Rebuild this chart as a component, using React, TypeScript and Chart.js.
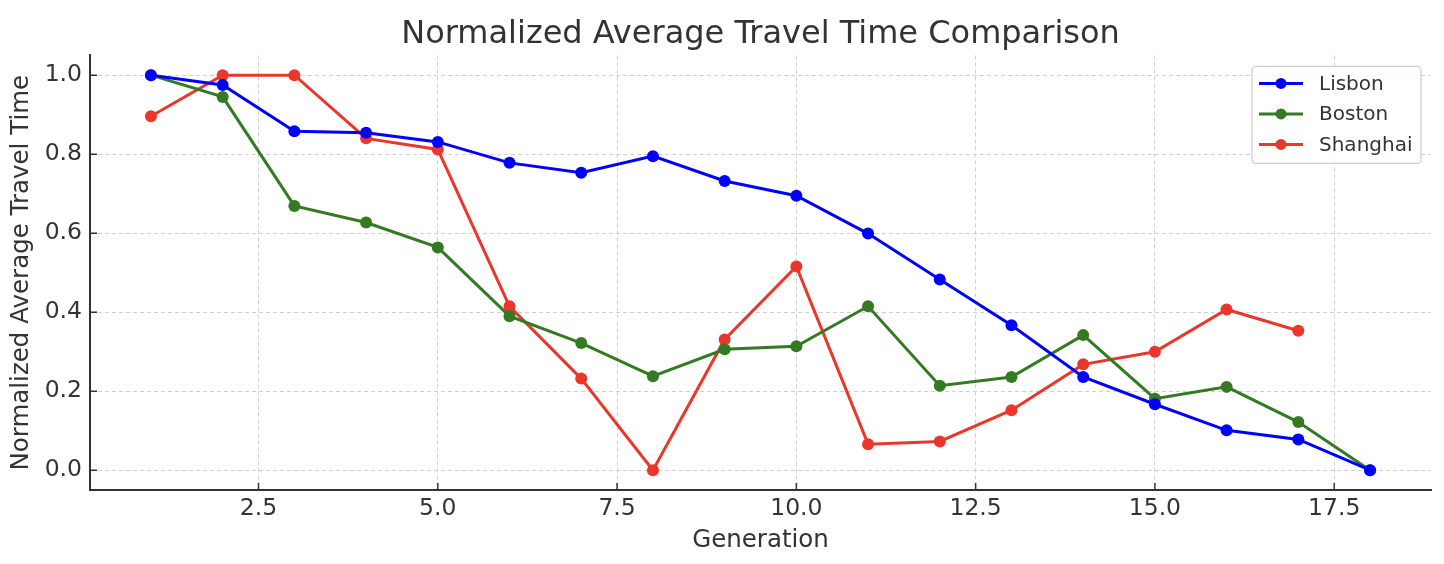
import { useEffect, useRef } from "react";
import { Chart, registerables } from "chart.js";
Chart.register(...registerables);

const generations = [1, 2, 3, 4, 5, 6, 7, 8, 9, 10, 11, 12, 13, 14, 15, 16, 17, 18];
const lisbon = [1.0, 0.975, 0.858, 0.854, 0.831, 0.778, 0.753, 0.795, 0.732, 0.695, 0.599, 0.483, 0.367, 0.236, 0.167, 0.101, 0.078, 0.0];
const boston = [1.0, 0.945, 0.669, 0.627, 0.564, 0.39, 0.322, 0.238, 0.306, 0.314, 0.415, 0.214, 0.236, 0.342, 0.181, 0.211, 0.122, 0.0];
const shanghai = [0.896, 1.0, 1.0, 0.84, 0.812, 0.415, 0.232, 0.0, 0.331, 0.516, 0.066, 0.073, 0.152, 0.268, 0.3, 0.407, 0.353];
const seriesNames = ["Lisbon", "Boston", "Shanghai"];
const seriesColors = ["#0000ff", "#337a22", "#e9382b"];
const xTicks = [2.5, 5.0, 7.5, 10.0, 12.5, 15.0, 17.5];
const yTicks = [0.0, 0.2, 0.4, 0.6, 0.8, 1.0];

const FONT = "'DejaVu Sans', sans-serif";
const TEXT = "#333333";

const inwardTicks = {
  id: "inwardTicks",
  afterDraw(chart: any) {
    const { ctx, chartArea } = chart;
    const xs = chart.scales.x;
    const ys = chart.scales.y;
    ctx.save();
    ctx.strokeStyle = TEXT;
    ctx.lineWidth = 1.5;
    ctx.beginPath();
    xTicks.forEach((v) => {
      const px = xs.getPixelForValue(v);
      ctx.moveTo(px, chartArea.bottom);
      ctx.lineTo(px, chartArea.bottom - 7);
    });
    yTicks.forEach((v) => {
      const py = ys.getPixelForValue(v);
      ctx.moveTo(chartArea.left, py);
      ctx.lineTo(chartArea.left + 7, py);
    });
    ctx.stroke();
    ctx.restore();
  },
};

const boxLegend = {
  id: "boxLegend",
  afterDraw(chart: any) {
    const { ctx, chartArea } = chart;
    const w = 169;
    const h = 97;
    const left = chartArea.right - 10 - w;
    const top = chartArea.top + 11;
    ctx.save();
    ctx.beginPath();
    ctx.roundRect(left, top, w, h, 4);
    ctx.fillStyle = "rgba(255,255,255,0.85)";
    ctx.fill();
    ctx.strokeStyle = "#cccccc";
    ctx.lineWidth = 1.2;
    ctx.stroke();
    chart.data.datasets.forEach((ds: any, i: number) => {
      const cy = top + 17 + i * 30.5;
      ctx.strokeStyle = ds.borderColor;
      ctx.lineWidth = 3;
      ctx.beginPath();
      ctx.moveTo(left + 7, cy);
      ctx.lineTo(left + 51, cy);
      ctx.stroke();
      ctx.fillStyle = ds.borderColor;
      ctx.beginPath();
      ctx.arc(left + 29, cy, 5.5, 0, Math.PI * 2);
      ctx.fill();
      ctx.fillStyle = TEXT;
      ctx.font = `20px ${FONT}`;
      ctx.textBaseline = "middle";
      ctx.textAlign = "left";
      ctx.fillText(ds.label, left + 67, cy + 1);
    });
    ctx.restore();
  },
};

export default function App() {
  const ref = useRef<HTMLCanvasElement | null>(null);
  useEffect(() => {
    document.body.style.margin = "0";
    const allSeries = [lisbon, boston, shanghai];
    const chart = new Chart(ref.current as HTMLCanvasElement, {
      type: "line",
      data: {
        datasets: allSeries.map((vals, i) => ({
          label: seriesNames[i],
          data: vals.map((y, j) => ({ x: generations[j], y })),
          borderColor: seriesColors[i],
          backgroundColor: seriesColors[i],
          pointBackgroundColor: seriesColors[i],
          pointBorderWidth: 0,
          pointRadius: 6,
          borderWidth: 3,
          tension: 0,
          fill: false,
        })),
      },
      options: {
        animation: false,
        responsive: false,
        devicePixelRatio: 1,
        layout: { padding: { left: 0, right: 13, top: 0, bottom: 0 } },
        plugins: {
          legend: { display: false },
          tooltip: { enabled: false },
          title: {
            display: true,
            text: "Normalized Average Travel Time Comparison",
            fullSize: false,
            color: TEXT,
            font: { family: FONT, size: 32, weight: "normal", lineHeight: 1.2 },
            padding: { top: 15, bottom: 2 },
          },
        },
        scales: {
          x: {
            type: "linear",
            min: 0.15,
            max: 18.85,
            afterBuildTicks: (s: any) => {
              s.ticks = xTicks.map((v) => ({ value: v }));
            },
            afterFit: (s: any) => {
              s.height = 74;
            },
            ticks: {
              color: TEXT,
              font: { family: FONT, size: 23.5 },
              padding: 5,
              maxRotation: 0,
              autoSkip: false,
              callback: (v: any) => Number(v).toFixed(1),
            },
            grid: { color: "#d0d0d0", lineWidth: 1, drawTicks: false },
            border: { color: TEXT, width: 2, dash: [4, 3] },
            title: {
              display: true,
              text: "Generation",
              color: TEXT,
              font: { family: FONT, size: 24.5, lineHeight: 1.2 },
              padding: { top: 0, bottom: 9 },
            },
          },
          y: {
            type: "linear",
            min: -0.05,
            max: 1.05,
            afterBuildTicks: (s: any) => {
              s.ticks = yTicks.map((v) => ({ value: v }));
            },
            afterFit: (s: any) => {
              s.width = 90;
            },
            ticks: {
              color: TEXT,
              font: { family: FONT, size: 23.5 },
              padding: 8,
              autoSkip: false,
              callback: (v: any) => Number(v).toFixed(1),
            },
            grid: { color: "#d0d0d0", lineWidth: 1, drawTicks: false },
            border: { color: TEXT, width: 2, dash: [4, 3] },
            title: {
              display: true,
              text: "Normalized Average Travel Time",
              color: TEXT,
              font: { family: FONT, size: 24.5, lineHeight: 1.2 },
              padding: { top: 7, bottom: 0 },
            },
          },
        },
      },
      plugins: [inwardTicks, boxLegend],
    } as any);
    return () => chart.destroy();
  }, []);
  return (
    <div style={{ width: 1444, height: 564 }}>
      <canvas ref={ref} width={1444} height={564} style={{ display: "block" }} />
    </div>
  );
}
